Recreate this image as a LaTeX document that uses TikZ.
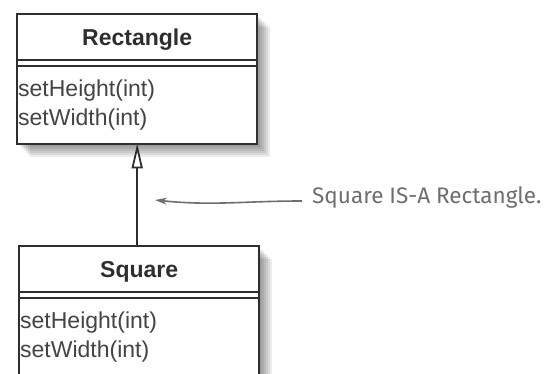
\documentclass[tikz,border=0pt]{standalone}
\usepackage{fontspec}
\setmainfont{Liberation Sans}
\newfontfamily\handfont{Fira Sans}
\usetikzlibrary{arrows.meta,positioning,calc}
\definecolor{Ink}{HTML}{2E2E2E}
\definecolor{MethodInk}{HTML}{444444}
\definecolor{NoteGray}{HTML}{6E6E6E}
\tikzset{
  classbox/.style={draw=Ink,line width=2.4pt,fill=white,minimum width=240pt,inner sep=0pt},
  classname/.style={font=\fontsize{23}{26}\selectfont\bfseries,text=Ink},
  method/.style={font=\fontsize{23}{26}\selectfont,text=MethodInk,anchor=west,inner sep=0pt},
  note/.style={font=\handfont\fontsize{22.5}{26}\selectfont,text=NoteGray,anchor=west,inner sep=0pt}}
\newcommand{\umlclass}[6]{%
  \foreach \s in {2,4,...,14}
    \fill[black,opacity=.075] ($(#2)+(\s,\s)$) rectangle ++(240,#3);
  \node[classbox,minimum height=#3pt,anchor=north west] (#1) at (#2) {};
  \node[classname] (#1-name) at ($(#1.north)+(0,27)$) {#4};
  \draw[Ink,line width=2pt] ($(#1.north west)+(0,47)$) -- ++(240,0)
    ($(#1.north west)+(0,53)$) -- ++(240,0);
  \node[method] (#1-m1) at ($(#1.north west)+(2,78)$) {#5};
  \node[method] (#1-m2) at ($(#1.north west)+(2,107)$) {#6};}

\begin{document}
\begin{tikzpicture}[x=1pt,y=-1pt]
  \clip (0,0) rectangle (544,374);
  \fill[white] (0,0) rectangle (544,374);
  \umlclass{rect}{16,13}{130}{Rectangle}{setHeight(int)}{setWidth(int)}
  \umlclass{sq}{18,245}{140}{Square}{setHeight(int)}{setWidth(int)}
  % Arrows
  \draw[Ink,line width=1.8pt,-{Triangle[open,length=25pt,width=11pt,fill=white]}]
    (sq.north -| rect.south) -- ([yshift=2pt]rect.south);
  \node[note] (remark) at (312,197) {Square IS-A Rectangle.};
  \coordinate (tip) at (155,200);
  \draw[NoteGray,line width=1.6pt,-{Stealth[length=12pt,width=7pt,inset=4pt]}]
    ([xshift=-10pt,yshift=-4pt]remark.west) to[out=180,in=-6] (tip);
\end{tikzpicture}
\end{document}
